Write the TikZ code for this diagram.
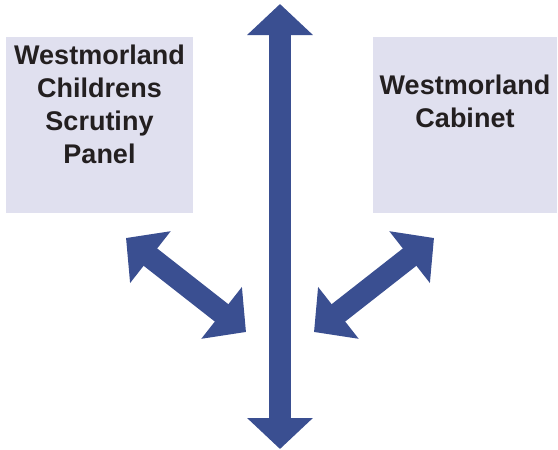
\documentclass[tikz,border=0pt]{standalone}
\usepackage{fontspec}
\setmainfont{Liberation Sans}
\usepackage{xcolor}
\usetikzlibrary{arrows.meta,calc,positioning}
\definecolor{arrowblue}{HTML}{3A4F91}
\definecolor{panelfill}{HTML}{E0E0EF}
\definecolor{paneltext}{HTML}{231F20}
\tikzset{>=latex}
\tikzset{panel/.style={fill=panelfill,draw=none,inner sep=0pt}}
\tikzset{panellabel/.style={inner sep=0pt,align=center,text=paneltext,font=\fontsize{27pt}{33pt}\selectfont\bfseries}}
\tikzset{blockarrow/.style={draw=arrowblue,line width=22pt,
  {Triangle[length=31pt,width=64pt]}-{Triangle[length=31pt,width=64pt]}}}

\begin{document}
\begin{tikzpicture}[x=1pt,y=-1pt]
  \useasboundingbox (0,0) rectangle (558,450);

  % Panels
  \node[panel,minimum width=187pt,minimum height=176pt] (scrutiny) at (99.5,125) {};
  \node[panel,minimum width=184pt,minimum height=176pt] (cabinet) at (465,125) {};

  % Arrow ends
  \coordinate (top) at (280,4);
  \coordinate (bottom) at (280,449);
  \coordinate (l1) at (126,238);
  \coordinate (l2) at (246,332);
  \coordinate (r1) at (434,238);
  \coordinate (r2) at (314,332);

  % Arrows
  \draw[blockarrow] (top) -- (bottom);
  \draw[blockarrow] (l1) -- (l2);
  \draw[blockarrow] (r1) -- (r2);

  % Labels
  \node[panellabel,anchor=north] (scrutinyn) at ([yshift=-8pt]scrutiny.north)
    {Westmorland\\Childrens\\Scrutiny\\Panel};
  \node[panellabel,anchor=north] (cabinetn) at ([yshift=-38pt]cabinet.north)
    {Westmorland\\Cabinet};
\end{tikzpicture}
\end{document}
